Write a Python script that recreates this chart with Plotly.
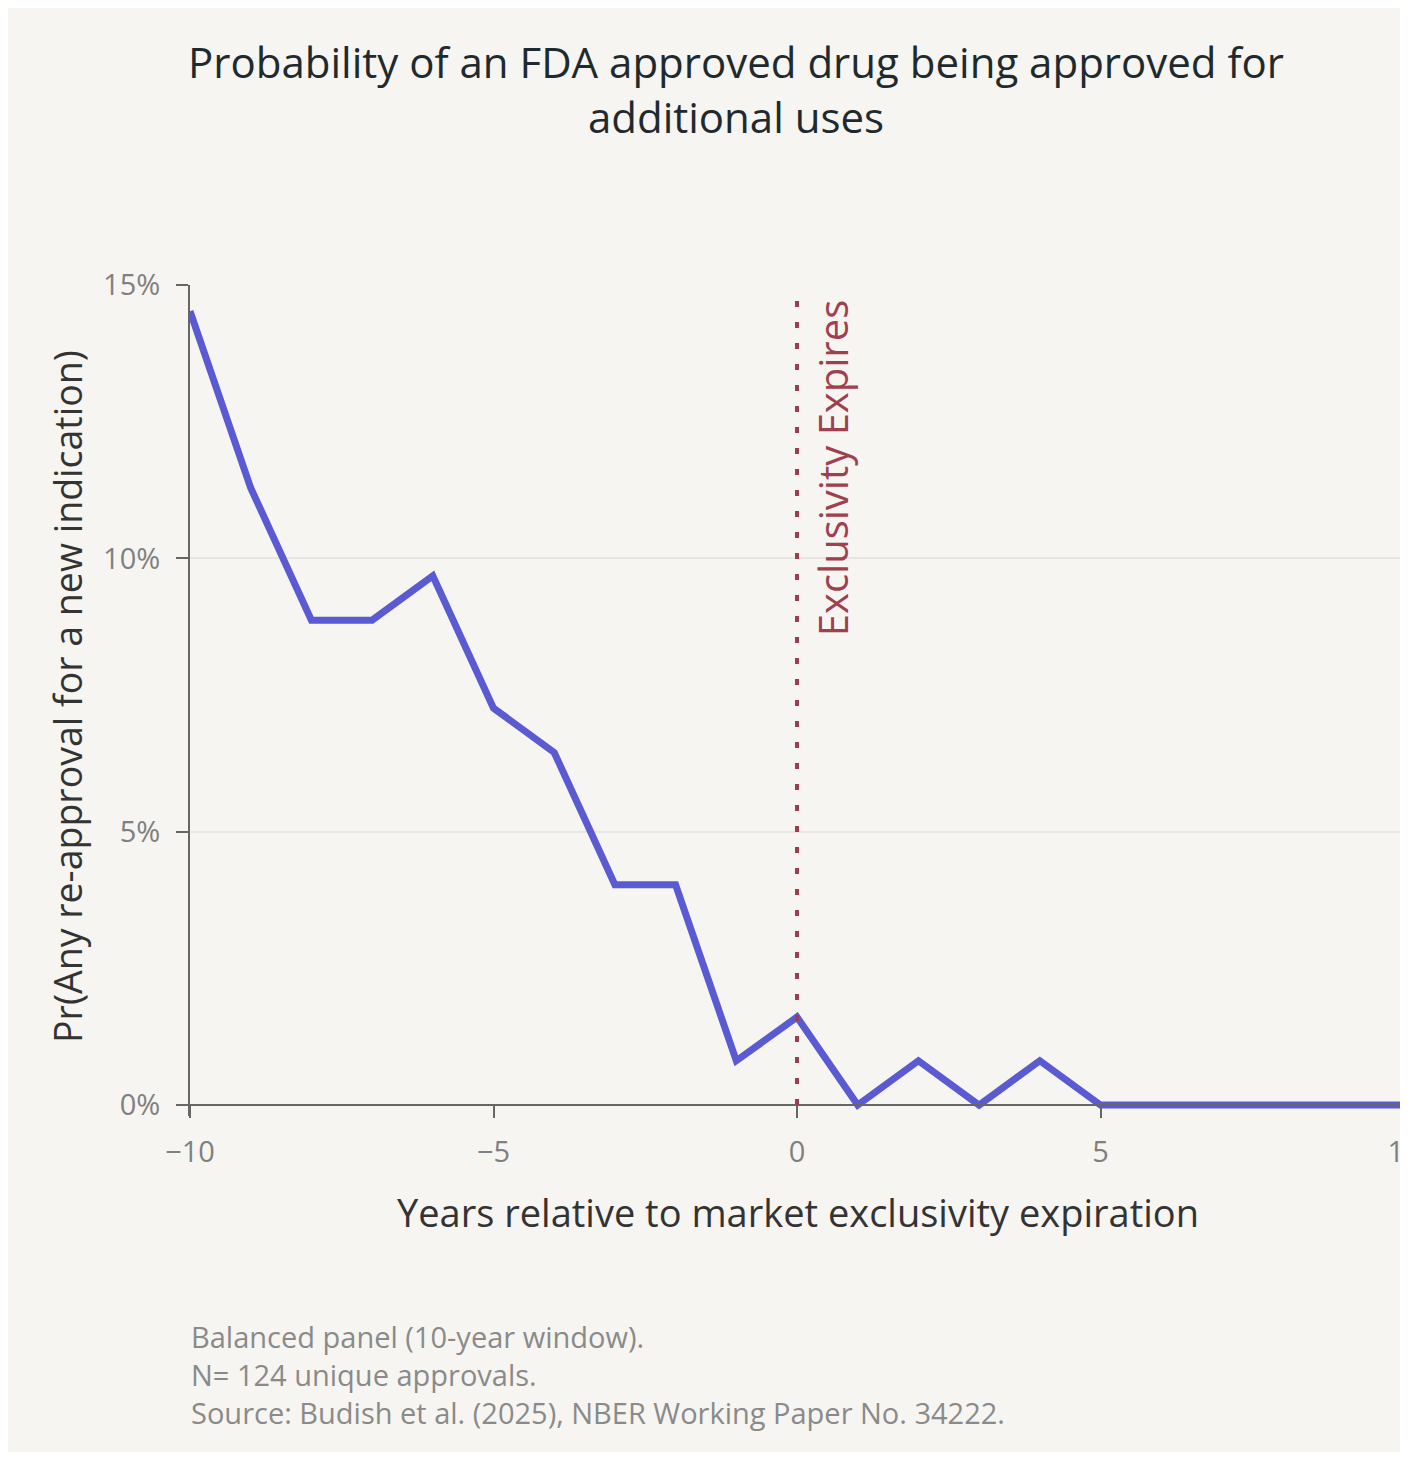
import plotly.graph_objects as go

# Data
years = [-10, -9, -8, -7, -6, -5, -4, -3, -2, -1, 0, 1, 2, 3, 4, 5, 6, 7, 8, 9, 10]
prob_pct = [14.52, 11.29, 8.87, 8.87, 9.68, 7.26, 6.45, 4.03, 4.03, 0.81, 1.61,
            0.0, 0.81, 0.0, 0.81, 0.0, 0.0, 0.0, 0.0, 0.0, 0.0]
x_ticks = [-10, -5, 0, 5, 10]
y_ticks = [0, 5, 10, 15]
title_lines = ["Probability of an FDA approved drug being approved for", "additional uses"]
note_lines = ["Balanced panel (10-year window).",
              "N= 124 unique approvals.",
              "Source: Budish et al. (2025), NBER Working Paper No. 34222."]

OFF = 8  # page body margin
W, H = 1401, 1444
ML, MR, MT, MB = 182, 5, 277, 336
PW = W - ML - MR
PH = H - MT - MB
FONT = "'Open Sans', Lato, sans-serif"
BG = "#f6f5f1"


def px_x(p):  # page pixel -> paper x
    return (p - OFF - ML) / PW


def px_y(p):  # page pixel -> paper y
    return (H - MB - (p - OFF)) / PH


fig = go.Figure()
fig.add_trace(go.Scatter(
    x=years, y=prob_pct, mode="lines",
    line=dict(color="#5a5bd3", width=7),
    hoverinfo="skip", showlegend=False,
))

shapes = [
    dict(type="line", xref="x", yref="y", x0=0, x1=0, y0=0, y1=14.85,
         line=dict(color="#9e3d50", width=4, dash="6px,15px")),
    dict(type="rect", xref="paper", yref="paper", layer="above",
         x0=px_x(1400), x1=px_x(1420), y0=px_y(1470), y1=px_y(-5),
         fillcolor="white", line=dict(width=0)),
]

annotations = [
    dict(text="<br>".join(title_lines), xref="paper", yref="paper",
         x=px_x(736), y=px_y(89), xanchor="center", yanchor="middle",
         showarrow=False, borderpad=0,
         font=dict(family=FONT, size=42, color="#1e2a2e")),
]
for i, t in enumerate(note_lines):
    annotations.append(dict(
        text=t, xref="paper", yref="paper", x=px_x(190), y=px_y(1336 + 38 * i),
        xanchor="left", yanchor="middle", showarrow=False, borderpad=0,
        font=dict(family=FONT, size=29, color="#8a8a8a")))
annotations += [
    dict(text="Exclusivity Expires", xref="x", yref="y", x=0.1, y=14.75,
         xanchor="left", yanchor="top", textangle=-90, showarrow=False,
         font=dict(family=FONT, size=40, color="#a0404f")),
    dict(text="Years relative to market exclusivity expiration",
         xref="paper", yref="paper", x=px_x(798), y=px_y(1212),
         xanchor="center", yanchor="middle", showarrow=False,
         font=dict(family=FONT, size=38, color="#333333")),
    dict(text="Pr(Any re-approval for a new indication)",
         xref="paper", yref="paper", x=px_x(67), y=px_y(697),
         xanchor="center", yanchor="middle", textangle=-90, showarrow=False,
         font=dict(family=FONT, size=37.5, color="#333333")),
]

fig.update_layout(
    width=W, height=H,
    margin=dict(l=ML, r=MR, t=MT, b=MB, pad=0, autoexpand=False),
    paper_bgcolor=BG, plot_bgcolor="rgba(0,0,0,0)",
    shapes=shapes, annotations=annotations,
    font=dict(family=FONT),
    xaxis=dict(range=[-10, 10], tickvals=x_ticks,
               ticktext=[str(v).replace("-", "\u2212") for v in x_ticks],
               showgrid=False, zeroline=False, automargin=False,
               showline=True, linecolor="#666666", linewidth=2,
               ticks="outside", ticklen=12, tickwidth=2, tickcolor="#666666",
               anchor="free", position=0.2 / 15.2, ticklabelstandoff=9,
               ticklabeloverflow="allow",
               tickfont=dict(family=FONT, size=29, color="#808080")),
    yaxis=dict(range=[-0.2, 15], tickvals=y_ticks,
               ticktext=[f"{v}%" for v in y_ticks],
               showgrid=True, gridcolor="#e7e6e2", gridwidth=2,
               zeroline=False, automargin=False,
               showline=True, linecolor="#666666", linewidth=2,
               ticks="outside", ticklen=12, tickwidth=2, tickcolor="#666666",
               ticklabelstandoff=10,
               tickfont=dict(family=FONT, size=29, color="#808080")),
)

fig.write_html("out.html")
